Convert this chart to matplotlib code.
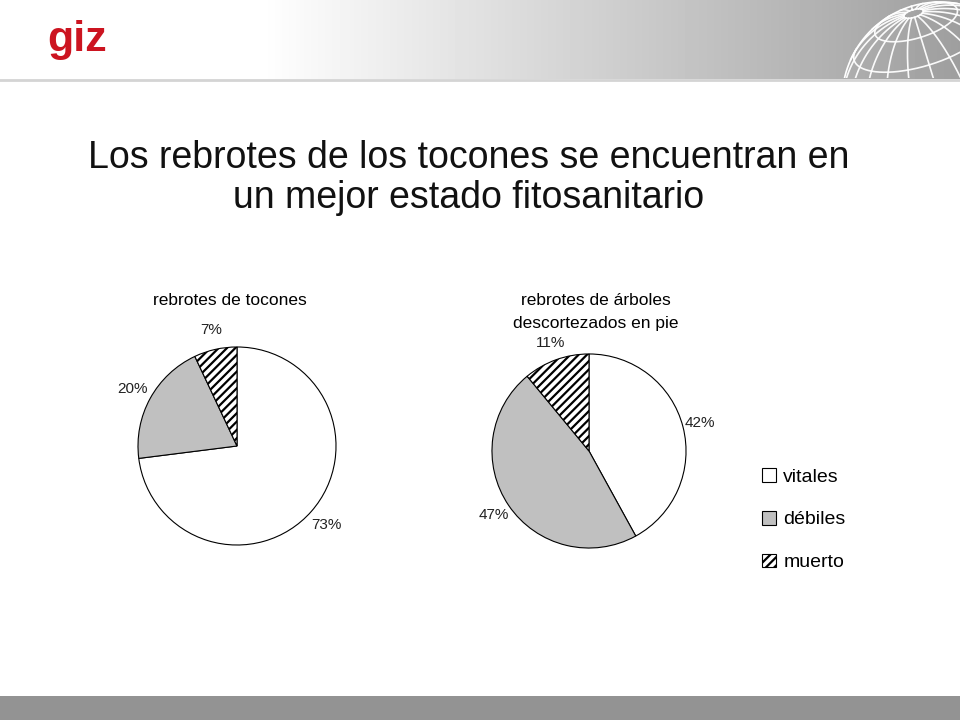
import numpy as np
import matplotlib
matplotlib.use("Agg")
import matplotlib.pyplot as plt
from matplotlib.patches import Rectangle

plt.rcParams["font.family"] = ["Liberation Sans", "DejaVu Sans"]
plt.rcParams["hatch.linewidth"] = 1.6

# data
categories = ["vitales", "débiles", "muerto"]
tocones_pct = [73, 20, 7]
arboles_pct = [42, 47, 11]
title_text = "Los rebrotes de los tocones se encuentran en\nun mejor estado fitosanitario"
pie_titles = ["rebrotes de tocones", "rebrotes de árboles\ndescortezados en pie"]

W, H = 960, 720
fig = plt.figure(figsize=(W / 100, H / 100), dpi=100)

# slide decoration, drawn in pixel coordinates
bg = fig.add_axes([0, 0, 1, 1], zorder=-1)
bg.set_xlim(0, W)
bg.set_ylim(H, 0)
bg.axis("off")

px = np.arange(W)
shade = 1.0 - 0.38 * np.clip((px - 260) / 700, 0, 1)
bg.imshow(np.tile(shade, (10, 1)), cmap="gray", vmin=0, vmax=1,
          extent=[0, W, 79, 0], aspect="auto")
bg.plot([0, W], [79.5, 79.5], color="#d4d4d4", lw=2)
bg.add_patch(Rectangle((0, 696), W, 24, color="#939393", lw=0))

# wireframe globe (orthographic projection), clipped to the header band
clip = Rectangle((0, 0), W, 78, transform=bg.transData)
gcx, gcy, R = 940, 100, 98
tilt, rot = np.radians(22), np.radians(17)


def globe_line(lat, lon):
    X = np.cos(lat) * np.sin(lon)
    Y = np.sin(lat)
    Z = np.cos(lat) * np.cos(lon)
    Y1 = Y * np.cos(tilt) - Z * np.sin(tilt)
    Z1 = Y * np.sin(tilt) + Z * np.cos(tilt)
    X2 = X * np.cos(rot) - Y1 * np.sin(rot)
    Y2 = X * np.sin(rot) + Y1 * np.cos(rot)
    X2 = np.where(Z1 >= 0, X2, np.nan)
    line, = bg.plot(gcx + R * X2, gcy - R * Y2, color="white", lw=1.2, alpha=0.95)
    line.set_clip_path(clip)


t = np.linspace(-np.pi / 2, np.radians(84), 200)
for lon_deg in range(0, 360, 18):
    globe_line(t, np.full_like(t, np.radians(lon_deg)))
u = np.linspace(-np.pi, np.pi, 400)
for lat_deg in [0, 22, 44, 64, 84]:
    globe_line(np.full_like(u, np.radians(lat_deg)), u)
a = np.linspace(0, 2 * np.pi, 400)
outline, = bg.plot(gcx + R * np.cos(a), gcy + R * np.sin(a), color="white", lw=1.2)
outline.set_clip_path(clip)

fig.text(47 / W, 1 - 40 / H, "giz", color="#cc1420", fontsize=31, fontweight="bold",
         ha="left", va="center")

fig.text(469 / W, 1 - 178 / H, title_text, fontsize=27.0, ha="center", va="center",
         linespacing=1.12, color="#111111")

colors = ["white", "#c0c0c0", "white"]
hatches = [None, None, "////"]


def draw_pie(cx_px, cy_px, rad_px, values, pctdist):
    ax = fig.add_axes([(cx_px - rad_px) / W, (H - cy_px - rad_px) / H,
                       2 * rad_px / W, 2 * rad_px / H])
    wedges, _, autotexts = ax.pie(values, colors=colors, startangle=90, counterclock=False,
                                  autopct="%1.0f%%", pctdistance=pctdist,
                                  wedgeprops=dict(edgecolor="black", linewidth=0.8))
    for w, h in zip(wedges, hatches):
        if h:
            w.set_hatch(h)
    for t in autotexts:
        t.set_fontsize(11)
        t.set_color("#222222")
    ax.set_xlim(-1.01, 1.01)
    ax.set_ylim(-1.01, 1.01)
    ax.set_aspect("equal")
    return wedges


wedges = draw_pie(237, 446, 100, tocones_pct, 1.2)
draw_pie(589, 451, 98, arboles_pct, 1.18)

fig.text(230 / W, 1 - 300 / H, pie_titles[0], fontsize=12.5, ha="center", va="center")
fig.text(596 / W, 1 - 312 / H, pie_titles[1], fontsize=12.5, ha="center", va="center",
         linespacing=1.65)

fig.legend(wedges, categories, loc="upper left", bbox_to_anchor=(762 / W, 1 - 468 / H),
           frameon=False, fontsize=14, handlelength=0.7, handleheight=0.7,
           handletextpad=0.4, labelspacing=1.3, borderpad=0, borderaxespad=0)

fig.savefig("out.png", dpi=100)
